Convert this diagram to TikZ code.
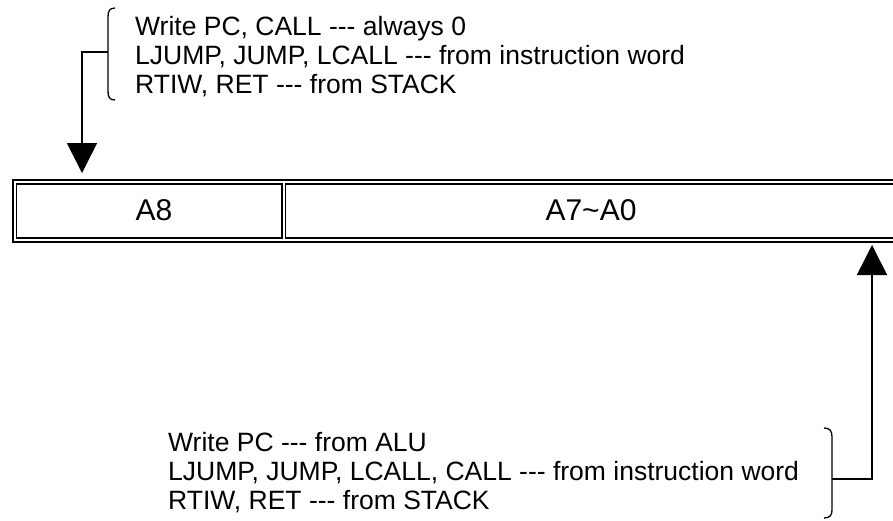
\documentclass[tikz,border=0pt]{standalone}
\usepackage{fontspec}
\setmainfont{Liberation Sans}
\usetikzlibrary{arrows.meta}
\newcommand\hy{\mbox{-}}
\begin{document}
\begin{tikzpicture}[x=1pt,y=-1pt,
  txt/.style={font=\fontsize{26.5}{29}\selectfont, inner sep=0pt, align=left, anchor=north west},
  cell/.style={draw, line width=1.5pt, inner sep=0pt, anchor=north west},
  outerbox/.style={draw, line width=2pt, inner sep=0pt, anchor=north west},
  lbl/.style={font=\fontsize{30}{32}\selectfont, inner sep=0pt},
  brace/.style={line width=1.3pt},
  arr/.style={line width=1.6pt, -{Triangle[width=30pt,length=30pt]}}]
\path[fill=white] (0,0) rectangle (893,520);
\useasboundingbox (0,0) rectangle (893,520);
% register
\node[outerbox, minimum width=893pt, minimum height=62.5pt] (reg) at (12,178.5) {};
\node[cell, minimum width=265.5pt, minimum height=54pt] (c8) at (15.5,183) {};
\node[cell, minimum width=620pt, minimum height=54pt] (c70) at (284.5,183) {};
\node[lbl] (a8) at (154,210) {A8};
\node[lbl] (a70) at (591,210) {A7\textasciitilde A0};
% texts
\node[txt] (ttext) at (135,16) {Write PC, CALL \hy\hy\hy\ always 0\\LJUMP, JUMP, LCALL \hy\hy\hy\ from instruction word\\RTIW, RET \hy\hy\hy\ from STACK};
\node[txt] (btext) at (168,432) {Write PC \hy\hy\hy\ from ALU\\LJUMP, JUMP, LCALL, CALL \hy\hy\hy\ from instruction word\\RTIW, RET \hy\hy\hy\ from STACK};
% braces
\draw[brace] (115,8) .. controls (109.5,8) and (108,11) .. (108,17) -- (108,91) .. controls (108,97) and (109.5,100) .. (115,100);
\coordinate (tb) at (108,52);
\draw[brace] (824,428) .. controls (830,428) and (832,431) .. (832,437) -- (832,510) .. controls (832,515) and (830,518) .. (824,518);
\coordinate (bb) at (832,479);
% connectors
\draw[arr] (tb) -| ([xshift=70pt,yshift=5.5pt]reg.north west);
\draw[arr] (bb) -| ([xshift=860pt,yshift=-2pt]reg.south west);
\end{tikzpicture}
\end{document}
